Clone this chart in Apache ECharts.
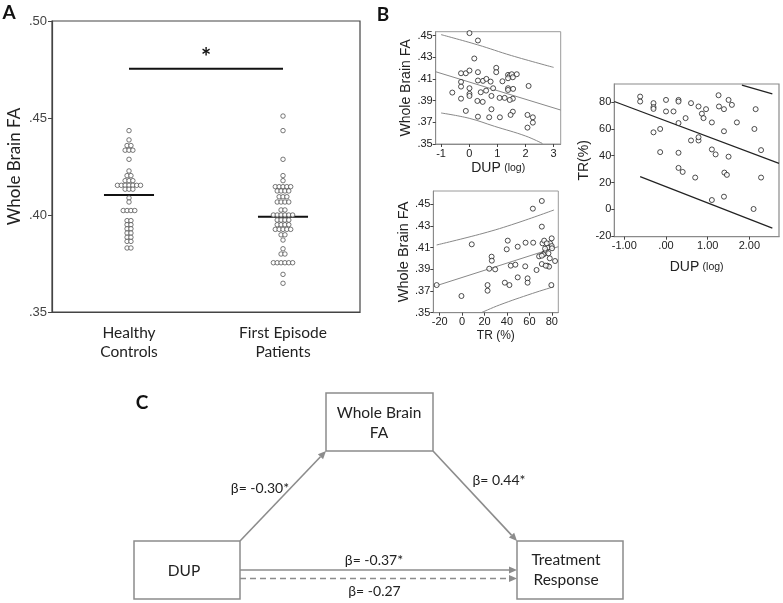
<!DOCTYPE html>
<html><head><meta charset="utf-8">
<script src="https://cdn.jsdelivr.net/npm/echarts@6/dist/echarts.min.js"></script>
<style>html,body{margin:0;padding:0;background:#fff}#c{width:783px;height:603px}</style>
</head><body><div id="c"></div>
<script>
// ---------- Panel A data (dot-plot rows: FA value and number of dots in row) ----------
const groupNames = ['Healthy\nControls', 'First Episode\nPatients'];
const hcRowFA  = [.4435,.4387,.4358,.4334,.4287,.4227,.4203,.4177,.4153,.4133,.4088,.4067,.4023,.3971,.3950,.3929,.3907,.3885,.3864,.3830];
const hcRowN   = [1,1,2,3,1,1,2,3,7,3,1,1,4,2,2,2,2,2,2,2];
const fepRowFA = [.4510,.4435,.4287,.4203,.4177,.4146,.4124,.4094,.4067,.4026,.4000,.3974,.3950,.3926,.3898,.3871,.3826,.3799,.3754,.3694,.3648];
const fepRowN  = [1,1,1,1,1,5,4,3,4,2,6,4,4,5,2,1,1,2,6,1,1];
const groupMeans = [0.4103, 0.3991];
const sigBarFA = 0.4754;
const sigStarFA = 0.4808;
const faTicksA = [0.35, 0.40, 0.45, 0.50];

// ---------- Panel B data ----------
const dupTL = [0.01,0.31,0.18,-0.29,-0.12,0.01,0.31,-0.29,-0.29,0.01,0.01,0.01,-0.60,-0.29,-0.12,0.31,0.49,0.61,0.76,0.41,0.60,0.85,0.29,0.48,0.79,0.79,0.31,0.71,1.09,0.96,0.96,1.18,1.08,1.26,1.38,1.44,1.51,1.69,1.38,1.38,1.56,1.55,1.44,1.55,1.47,2.11,2.07,2.26,2.26,2.07,1.38,1.55];
const faTL  = [.4522,.4454,.4288,.4152,.4152,.4177,.4162,.4072,.4029,.4014,.3962,.3943,.3974,.3918,.3805,.4085,.4082,.4100,.4075,.3977,.3992,.4014,.3897,.3888,.3943,.3820,.3752,.3746,.3746,.4202,.4162,.4078,.3925,.3925,.4137,.4128,.4143,.4143,.4014,.3998,.4008,.3918,.3906,.3798,.3768,.4035,.3768,.3746,.3697,.3651,.4106,.4115];
const tlFitX = [-1.19, 3.25], tlFitY = [.4166, .3813];
const tlUpX = [-1, 0.3, 1.5, 3.0], tlUpY = [.4508, .4414, .4315, .4206];
const tlLoX = [-1, 0, 0.9, 2, 2.6], tlLoY = [.3786, .3737, .3663, .3574, .3505];

const trBL = [63.1,71.1,71.1,-22.7,-0.6,8.6,26.3,26.5,24.2,29.5,22.7,22.7,38.1,42.2,39.8,40.7,49.6,56.6,63.4,43.4,47.5,49.6,56.3,58.4,58.4,66.4,68.7,71.1,71.7,73.2,73.7,74.6,76.1,76.7,77.6,78.5,79.9,79.9,80.2,78.2,82.9,79.6,74.0,72.6,75.5,74.6,71.1,77.0];
const faBL = [.4460,.4531,.4294,.3755,.3654,.4131,.4017,.3980,.3906,.3900,.3755,.3703,.3777,.3755,.4085,.4165,.4109,.4146,.4146,.3934,.3943,.3826,.3928,.3817,.3777,.3894,.4020,.3949,.4140,.4165,.4048,.4069,.3934,.4103,.3925,.4140,.4186,.4115,.4094,.4002,.3977,.3755,.4091,.4038,.4140,.3934,.4026,.4048];
const blFitX = [-25.7, 85.8], blFitY = [.3740, .4109];
const blUpX = [-22.7, 18.6, 48.1, 82], blUpY = [.4125, .4232, .4325, .4448];
const blLoX = [17.1, 33.3, 62.8, 82], blLoY = [.3500, .3571, .3678, .3740];

const dupR = [-0.62,-0.62,-0.30,-0.30,-0.30,0,0,0.18,0.30,0.30,0.30,0.47,0.60,0.78,0.86,0.90,0.96,1.26,1.27,1.39,1.50,1.58,1.10,1.70,2.15,2.12,2.28,2.28,2.10,-0.30,-0.14,-0.14,0.30,0.30,0.40,0.70,0.60,0.78,0.78,1.10,1.19,1.39,1.50,1.40,1.46,1.39,1.10];
const trR  = [84.2,80.5,79.3,76.3,75.0,81.7,73.1,73.1,81.7,80.5,64.4,68.1,79.3,76.8,71.4,68.1,74.8,85.2,76.8,74.8,81.7,78.0,64.9,64.9,74.8,60.0,44.2,23.7,0.2,57.5,60.0,42.7,42.2,30.9,27.9,23.7,51.4,51.4,53.8,44.7,41.0,58.3,39.3,27.4,25.7,9.4,6.9];
const rFitX = [-1.24, 2.71], rFitY = [80.5, 34.3];
const rUpX = [1.82, 2.55], rUpY = [92.8, 86.2];
const rLoX = [-0.62, 2.55], rLoY = [24.4, -14.1];

const faTicksB = [0.35, 0.37, 0.39, 0.41, 0.43, 0.45];
const dupTicksTL = [-1, 0, 1, 2, 3];
const trTicksBL = [-20, 0, 20, 40, 60, 80];
const dupTicksR = [-1, 0, 1, 2];
const trTicksR = [-20, 0, 20, 40, 60, 80];

// ---------- Panel C text ----------
const pathNodes = ['Whole Brain\nFA', 'DUP', 'Treatment\nResponse'];
const pathBetas = ['β= -0.30*', 'β= 0.44*', 'β= -0.37*', 'β= -0.27'];

// ---------- helpers ----------
const zip = (xs, ys) => xs.map((x, i) => [x, ys[i]]);
const DOT_STEP = 0.05, MEAN_HALF = 0.325;
function swarm(vals, counts, center) {
  const pts = [];
  vals.forEach((v, i) => {
    const n = counts[i];
    for (let k = 0; k < n; k++) pts.push([center + (k - (n - 1) / 2) * DOT_STEP, v]);
  });
  return pts;
}
const fmtFA = v => v.toFixed(2).replace(/^0/, '');
const fmtR = v => { const s = v.toFixed(2); return s === '0.00' ? '.00' : s; };

const ARIAL = 'Liberation Sans, Arial, sans-serif';
const CAL = 'Lato, Carlito, sans-serif';

function bX(gi, min, max, ticks, fmt, name, gap, fs) {
  return {
    type: 'value', gridIndex: gi, min, max, position: 'bottom',
    axisLine: { show: true, onZero: false, lineStyle: { color: '#8a8a8a', width: 1 } },
    axisTick: { show: true, length: 3, customValues: ticks, lineStyle: { color: '#444' } },
    axisLabel: { customValues: ticks, formatter: fmt, fontFamily: ARIAL, fontSize: fs, color: '#222', margin: 4 },
    splitLine: { show: false },
    name, nameLocation: 'middle', nameGap: gap,
    nameTextStyle: { fontFamily: ARIAL, color: '#222', rich: { a: { fontSize: 14, fontFamily: ARIAL, color: '#222' }, b: { fontSize: 10.5, fontFamily: ARIAL, color: '#222' } } }
  };
}
function bY(gi, min, max, ticks, fmt, name, gap, fs, nfs) {
  return {
    type: 'value', gridIndex: gi, min, max, position: 'left',
    axisLine: { show: true, onZero: false, lineStyle: { color: '#8a8a8a', width: 1 } },
    axisTick: { show: true, length: 3, customValues: ticks, lineStyle: { color: '#444' } },
    axisLabel: { customValues: ticks, formatter: fmt, fontFamily: ARIAL, fontSize: fs, color: '#222', margin: 3 },
    splitLine: { show: false },
    name, nameLocation: 'middle', nameGap: gap,
    nameTextStyle: { fontFamily: ARIAL, fontSize: nfs, color: '#222' }
  };
}
const ptStyle = { color: '#fff', borderColor: '#222', borderWidth: 1 };
function fitLine(xi, yi, data, color, smooth, w) {
  return { type: 'line', xAxisIndex: xi, yAxisIndex: yi, data, symbol: 'none', smooth: smooth ? 0.4 : false,
    lineStyle: { color, width: w || 1 }, silent: true, z: 1 };
}

// ---------- panel C graphic ----------
const GRAY = '#8c8c8c';
const boxes = [
  { x: 326, y: 393, w: 107, h: 58, tx: 379, ty: 423 },
  { x: 134, y: 541, w: 106, h: 58, tx: 184, ty: 571 },
  { x: 517, y: 541, w: 106, h: 58, tx: 566, ty: 570 }
];
const arrows = [
  { x1: 240, y1: 541, x2: 326, y2: 451, dash: false },
  { x1: 433, y1: 451, x2: 517, y2: 541, dash: false },
  { x1: 240, y1: 570, x2: 517, y2: 570, dash: false },
  { x1: 240, y1: 578.5, x2: 517, y2: 578.5, dash: true }
];
const betaPos = [[260, 488], [499, 480], [374, 560], [374.5, 591]];
const graphics = [];
boxes.forEach((b, i) => {
  graphics.push({ type: 'rect', shape: { x: b.x, y: b.y, width: b.w, height: b.h },
    style: { fill: '#fff', stroke: GRAY, lineWidth: 1.5 }, z: 10 });
  graphics.push({ type: 'text', x: b.tx, y: b.ty, z: 11,
    style: { text: pathNodes[i], fontFamily: CAL, fontSize: 15.5, fill: '#222', align: 'center', verticalAlign: 'middle', lineHeight: 20 } });
});
arrows.forEach(a => {
  const ang = Math.atan2(a.y2 - a.y1, a.x2 - a.x1), L = 8, Wd = 3.6;
  const c = Math.cos(ang), s = Math.sin(ang);
  const bx = a.x2 - L * c, by = a.y2 - L * s;
  graphics.push({ type: 'line', shape: { x1: a.x1, y1: a.y1, x2: bx, y2: by }, z: 9,
    style: { stroke: GRAY, lineWidth: 1.6, lineDash: a.dash ? [6, 4] : null } });
  graphics.push({ type: 'polygon', shape: { points: [[a.x2, a.y2], [bx - Wd * s, by + Wd * c], [bx + Wd * s, by - Wd * c]] }, z: 9,
    style: { fill: GRAY } });
});
pathBetas.forEach((t, i) => {
  graphics.push({ type: 'text', x: betaPos[i][0], y: betaPos[i][1], z: 11,
    style: { text: t, fontFamily: CAL, fontSize: 14, fill: '#222', align: 'center', verticalAlign: 'middle' } });
});
[['A', 9, 13], ['B', 383, 15], ['C', 142, 403]].forEach(p => {
  graphics.push({ type: 'text', x: p[1], y: p[2], z: 11,
    style: { text: p[0], fontFamily: CAL, fontWeight: 'bold', fontSize: 19, fill: '#111', align: 'center', verticalAlign: 'middle' } });
});

const option = {
  animation: false,
  backgroundColor: '#fff',
  grid: [
    { left: 52, top: 21, width: 308, height: 291, show: true, borderColor: '#444', borderWidth: 1.2 },
    { left: 435.7, top: 31.7, width: 125, height: 112.3, show: true, borderColor: '#9a9a9a', borderWidth: 1 },
    { left: 433.3, top: 191, width: 125, height: 121.7, show: true, borderColor: '#9a9a9a', borderWidth: 1 },
    { left: 614.3, top: 84, width: 164.7, height: 152.7, show: true, borderColor: '#8a8a8a', borderWidth: 1.2 }
  ],
  xAxis: [
    { type: 'category', gridIndex: 0, data: groupNames, boundaryGap: true,
      axisLine: { onZero: false, lineStyle: { color: '#444', width: 1.2 } },
      axisTick: { alignWithLabel: true, length: 5, lineStyle: { color: '#444' } },
      axisLabel: { fontFamily: CAL, fontSize: 15.5, color: '#222', lineHeight: 19, margin: 11 } },
    { type: 'value', gridIndex: 0, min: 0, max: 4, show: false },
    bX(1, -1.19, 3.25, dupTicksTL, v => String(v), '{a|DUP} {b|(log)}', 17, 11),
    bX(2, -25.7, 85.8, trTicksBL, v => String(v), 'TR (%)', 17, 11),
    bX(3, -1.24, 2.71, dupTicksR, fmtR, '{a|DUP} {b|(log)}', 23, 11)
  ],
  yAxis: [
    { type: 'value', gridIndex: 0, min: 0.35, max: 0.50,
      axisLine: { show: true, onZero: false, lineStyle: { color: '#444', width: 1.2 } },
      axisTick: { show: true, length: 4, customValues: faTicksA, lineStyle: { color: '#444' } },
      axisLabel: { customValues: faTicksA, formatter: fmtFA, fontFamily: ARIAL, fontSize: 13, color: '#444', margin: 5 },
      splitLine: { show: false },
      name: 'Whole Brain FA', nameLocation: 'middle', nameGap: 29,
      nameTextStyle: { fontFamily: CAL, fontSize: 17, color: '#222' } },
    bY(1, 0.35, 0.4535, faTicksB, fmtFA, 'Whole Brain FA', 21, 11, 14),
    bY(2, 0.35, 0.4623, faTicksB, fmtFA, 'Whole Brain FA', 18, 11, 14.5),
    bY(3, -20.5, 93.6, trTicksR, v => String(v), 'TR(%)', 19, 11, 14)
  ],
  graphic: graphics,
  series: [
    { type: 'scatter', xAxisIndex: 1, yAxisIndex: 0, data: swarm(hcRowFA, hcRowN, 1), symbolSize: 4.5,
      itemStyle: { color: '#fff', borderColor: '#444', borderWidth: 0.9 } },
    { type: 'scatter', xAxisIndex: 1, yAxisIndex: 0, data: swarm(fepRowFA, fepRowN, 3), symbolSize: 4.5,
      itemStyle: { color: '#fff', borderColor: '#444', borderWidth: 0.9 } },
    fitLine(1, 0, [[1 - MEAN_HALF, groupMeans[0]], [1 + MEAN_HALF, groupMeans[0]]], '#111', false, 2),
    fitLine(1, 0, [[3 - MEAN_HALF, groupMeans[1]], [3 + MEAN_HALF, groupMeans[1]]], '#111', false, 2),
    fitLine(1, 0, [[1, sigBarFA], [3, sigBarFA]], '#111', false, 2),
    { type: 'scatter', xAxisIndex: 1, yAxisIndex: 0, data: [[2, sigStarFA]], symbolSize: 1, itemStyle: { opacity: 0 },
      label: { show: true, position: 'inside', formatter: '*', fontFamily: CAL, fontWeight: 'bold', fontSize: 24, color: '#111', opacity: 1 } },

    { type: 'scatter', xAxisIndex: 2, yAxisIndex: 1, data: zip(dupTL, faTL), symbolSize: 5, itemStyle: ptStyle, z: 3 },
    fitLine(2, 1, zip(tlFitX, tlFitY), '#888', false),
    fitLine(2, 1, zip(tlUpX, tlUpY), '#888', true),
    fitLine(2, 1, zip(tlLoX, tlLoY), '#888', true),

    { type: 'scatter', xAxisIndex: 3, yAxisIndex: 2, data: zip(trBL, faBL), symbolSize: 5, itemStyle: ptStyle, z: 3 },
    fitLine(3, 2, zip(blFitX, blFitY), '#888', false),
    fitLine(3, 2, zip(blUpX, blUpY), '#888', true),
    fitLine(3, 2, zip(blLoX, blLoY), '#888', true),

    { type: 'scatter', xAxisIndex: 4, yAxisIndex: 3, data: zip(dupR, trR), symbolSize: 5, itemStyle: ptStyle, z: 3 },
    fitLine(4, 3, zip(rFitX, rFitY), '#222', false, 1.2),
    fitLine(4, 3, zip(rUpX, rUpY), '#222', false, 1.2),
    fitLine(4, 3, zip(rLoX, rLoY), '#222', false, 1.2)
  ]
};
const chart = echarts.init(document.getElementById('c'), null, { renderer: 'canvas' });
chart.setOption(option);
</script></body></html>
